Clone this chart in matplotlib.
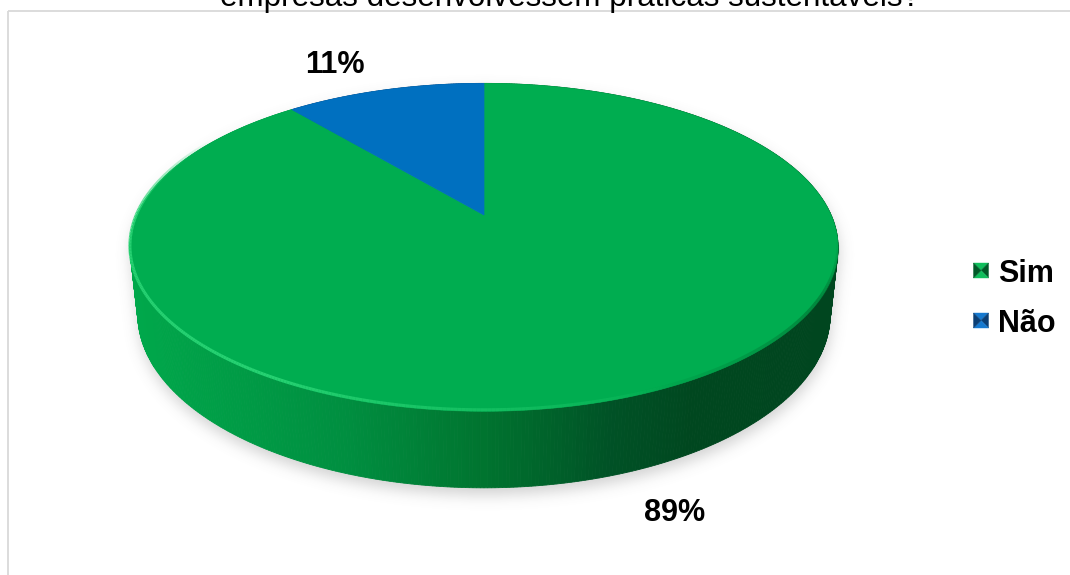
import numpy as np
import matplotlib
matplotlib.use("Agg")
import matplotlib.pyplot as plt
from matplotlib.patches import Polygon, Rectangle
from matplotlib.path import Path
from matplotlib.colors import LinearSegmentedColormap

# ── data ────────────────────────────────────────────────────────────────────
TITLE = "empresas desenvolvessem práticas sustentáveis?"
labels = ["Sim", "Não"]
values = [89, 11]
pct_labels = ["89%", "11%"]
top_colors = ["#00AD50", "#0070C0"]
key_light = ["#10BE5C", "#1679CF"]
key_dark = ["#005A28", "#0B3F75"]

W, H, DPI = 1070, 575, 100

# ── simple perspective camera for the 3-D pie ───────────────────────────────
ALPHA = np.radians(27)
CA, SA = np.cos(ALPHA), np.sin(ALPHA)
DIST = 4.52
FOC = 1569
THICK = 0.218
CX, CY = 484, 215


def proj(x, y, z):
    depth = DIST + y * CA - z * SA
    return CX + FOC * x / depth, CY - FOC * (y * SA + z * CA) / depth


def rim(theta_deg, z):
    t = np.radians(theta_deg)
    return proj(np.sin(t), np.cos(t), z)


side_cmap = LinearSegmentedColormap.from_list(
    "side", [(0.0, "#00A84B"), (0.3, "#008F40"), (0.5, "#00742F"),
             (0.68, "#005226"), (0.8, "#00471F"), (1.0, "#00461F")])

fig = plt.figure(figsize=(W / DPI, H / DPI), dpi=DPI)
ax = fig.add_axes([0, 0, 1, 1])
ax.set_xlim(0, W)
ax.set_ylim(H, 0)
ax.axis("off")

# chart frame
ax.add_patch(Rectangle((7.5, 10.5), 1200, 800, fill=False,
                       edgecolor="#D9D9D9", lw=1.3, zorder=1))

# ── soft drop shadow ────────────────────────────────────────────────────────
ang = np.linspace(0, 360, 361)
tx, ty = rim(ang, 0)
bx, by = rim(ang, -THICK)
pts = np.column_stack([np.r_[tx, bx], np.r_[ty, by]])
# convex hull (monotone chain)
pts = pts[np.lexsort((pts[:, 1], pts[:, 0]))]


def half(points):
    out = []
    for p in points:
        while len(out) >= 2 and np.cross(out[-1] - out[-2], p - out[-2]) <= 0:
            out.pop()
        out.append(p)
    return out


hull = np.array(half(pts)[:-1] + half(pts[::-1])[:-1])
gx, gy = np.meshgrid(np.arange(W) + 0.5, np.arange(H) + 0.5)
mask = Path(hull + [1, 7]).contains_points(
    np.column_stack([gx.ravel(), gy.ravel()])).reshape(H, W).astype(float)
k = np.exp(-0.5 * (np.arange(-24, 25) / 7.0) ** 2)
k /= k.sum()
blur = np.apply_along_axis(lambda r: np.convolve(r, k, mode="same"), 1, mask)
blur = np.apply_along_axis(lambda c: np.convolve(c, k, mode="same"), 0, blur)
shadow = np.zeros((H, W, 4))
shadow[..., :3] = 0.45
shadow[..., 3] = blur * 0.32
ax.imshow(shadow, extent=(0, W, H, 0), zorder=2, interpolation="bilinear")

# ── pie side (painter's order, far strips first) ────────────────────────────
bounds = np.r_[0, np.cumsum(values)] / sum(values) * 360
edges = np.linspace(0, 360, 721)
strips = []
for a0, a1 in zip(edges[:-1], edges[1:]):
    am = 0.5 * (a0 + a1)
    x0, y0 = rim(a0, 0)
    x1, y1 = rim(a1, 0)
    x2, y2 = rim(a1, -THICK)
    x3, y3 = rim(a0, -THICK)
    depth = DIST + np.cos(np.radians(am)) * CA
    xm = 0.5 * (x0 + x1)
    idx = np.searchsorted(bounds, am) - 1
    if idx == 0:
        col = side_cmap(np.clip((xm - 130) / 708, 0, 1))
    else:
        col = key_dark[idx]
    strips.append((depth, [(x0, y0), (x1, y1), (x2, y2), (x3, y3)], col))
for depth, poly, col in sorted(strips, key=lambda s: -s[0]):
    ax.add_patch(Polygon(poly, closed=True, facecolor=col, edgecolor=col,
                         lw=0.6, zorder=3))

# ── top faces ───────────────────────────────────────────────────────────────
for i in range(len(values)):
    arc = np.linspace(bounds[i], bounds[i + 1], 200)
    ax_, ay_ = rim(arc, 0)
    poly = np.column_stack([np.r_[CX, ax_], np.r_[CY, ay_]])
    ax.add_patch(Polygon(poly, closed=True, facecolor=top_colors[i],
                         edgecolor=top_colors[i], lw=0.5, zorder=4))

# bevel highlight along the front rim
for a0, a1 in zip(edges[:-1], edges[1:]):
    am = 0.5 * (a0 + a1)
    if not (100 < am < 300):
        continue
    w = np.clip((am - 150) / 60, 0, 1) * np.clip((300 - am) / 30, 0, 1)
    xs, ys = rim(np.array([a0, a1]), 0)
    if w > 0:
        ax.plot(xs, ys - 1.5, color="#2BD676", lw=2.2, alpha=0.9 * w,
                solid_capstyle="butt", zorder=5)
    d = np.clip((160 - am) / 40, 0, 1) * np.clip((am - 100) / 20, 0, 1)
    if d > 0:
        ax.plot(xs, ys - 1.5, color="#006E30", lw=2.5, alpha=0.6 * d,
                solid_capstyle="butt", zorder=5)

# ── data labels ─────────────────────────────────────────────────────────────
label_pos = [(675, 521), (335, 73)]
for txt, (lx, ly) in zip(pct_labels, label_pos):
    ax.text(lx, ly, txt, ha="center", va="baseline", fontsize=22,
            fontweight="bold", family="Liberation Sans", color="black",
            zorder=6)

# ── legend ──────────────────────────────────────────────────────────────────
for i, (lab, base_y) in enumerate(zip(labels, [282, 332])):
    sx, sy, sz = 973.5, base_y - 19, 15
    ctr = (sx + sz / 2, sy + sz / 2)
    c4 = [(sx, sy), (sx + sz, sy), (sx + sz, sy + sz), (sx, sy + sz)]
    for j in range(4):
        tri = [c4[j], c4[(j + 1) % 4], ctr]
        fc = key_light[i] if j % 2 == 0 else key_dark[i]
        ax.add_patch(Polygon(tri, closed=True, facecolor=fc, edgecolor=fc,
                             lw=0.3, zorder=6))
    ax.text(998, base_y, lab, ha="left", va="baseline", fontsize=22,
            fontweight="bold", family="Liberation Sans", zorder=6)

# title (only its lower part shows above the frame)
ax.text(570, 6, TITLE, ha="center", va="baseline", fontsize=22.6,
        family="Liberation Sans", color="black", zorder=6, clip_on=False)

fig.savefig("out.png", dpi=DPI)
